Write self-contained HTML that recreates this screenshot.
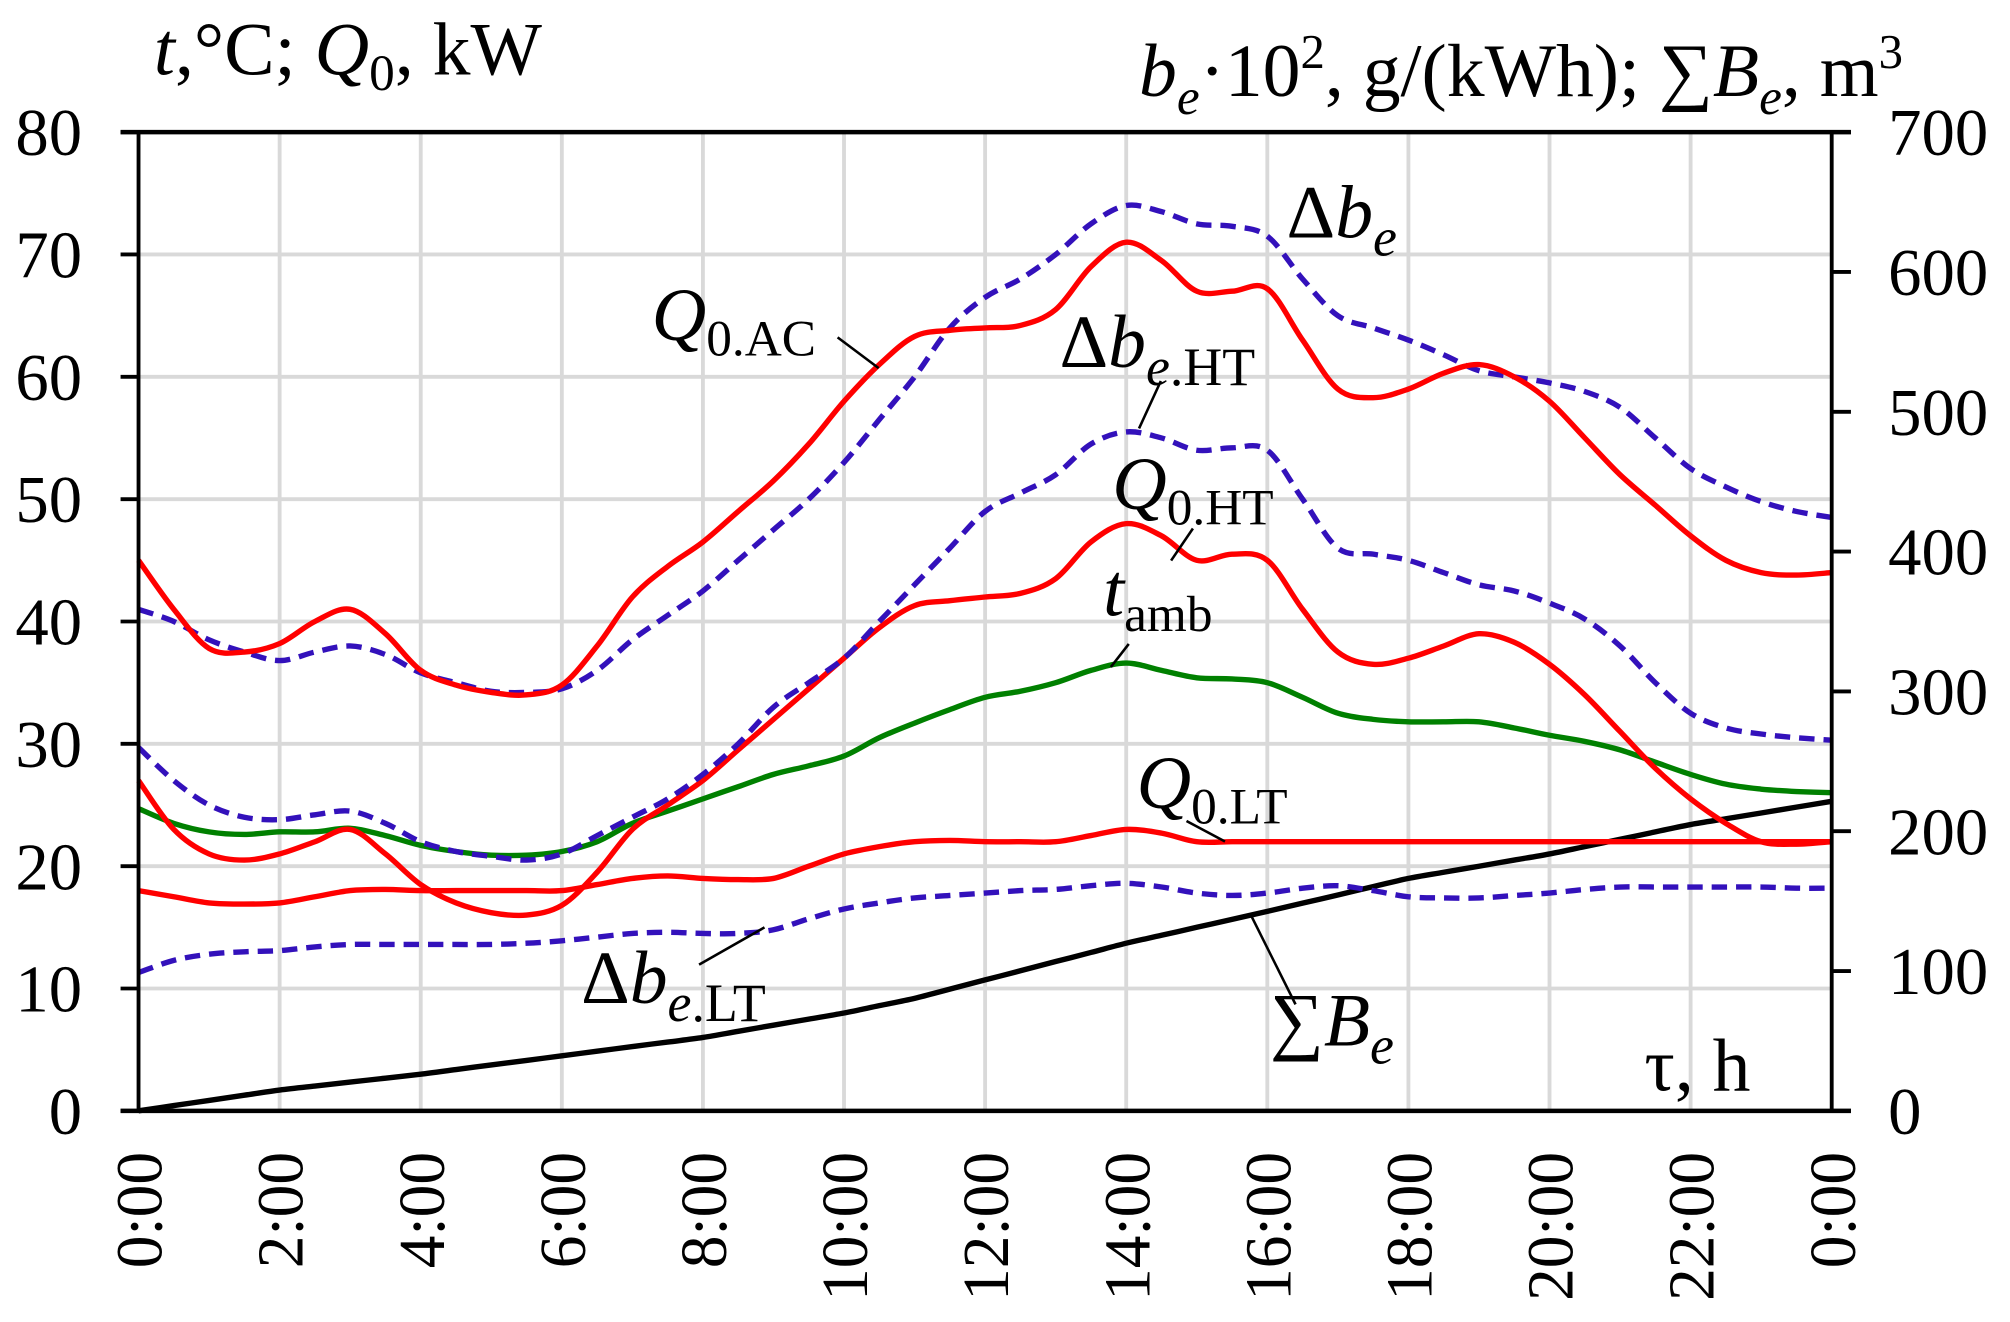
<!DOCTYPE html>
<html><head><meta charset="utf-8"><style>
html,body{margin:0;padding:0;background:#fff;}
svg{display:block;}
text{font-family:"Liberation Serif","Times New Roman",serif;fill:#000;}
</style></head><body>
<svg id="s" width="2010" height="1322" viewBox="0 0 1567 1030.6" xmlns="http://www.w3.org/2000/svg">
<g id="grid"></g>
<g id="series"></g>
<g id="axes"></g>
<g font-size="59">
<text x="120" y="58"><tspan font-style="italic">t</tspan>,°C; <tspan font-style="italic">Q</tspan><tspan font-size="40" dy="12">0</tspan><tspan dy="-12">, kW</tspan></text>
<text x="888" y="75"><tspan font-style="italic">b</tspan><tspan font-size="40" font-style="italic" dy="14">e</tspan><tspan dy="-14">·10</tspan><tspan font-size="38" dy="-22">2</tspan><tspan dy="22">, g/(kWh); ∑</tspan><tspan font-style="italic">B</tspan><tspan font-size="40" font-style="italic" dy="14">e</tspan><tspan dy="-14">, m</tspan><tspan font-size="38" dy="-22">3</tspan></text>
<text x="1282" y="850">τ, h</text>
<text x="1003" y="185">Δ<tspan font-style="italic">b</tspan><tspan font-size="42" font-style="italic" dy="14">e</tspan></text>
<text x="508" y="265"><tspan font-style="italic">Q</tspan><tspan font-size="40" dy="12">0.AC</tspan></text>
<text x="826" y="286">Δ<tspan font-style="italic">b</tspan><tspan font-size="42" dy="14"><tspan font-style="italic">e</tspan>.HT</tspan></text>
<text x="867" y="397"><tspan font-style="italic">Q</tspan><tspan font-size="40" dy="12">0.HT</tspan></text>
<text x="860" y="480"><tspan font-style="italic">t</tspan><tspan font-size="40" dy="12">amb</tspan></text>
<text x="886" y="630"><tspan font-style="italic">Q</tspan><tspan font-size="40" dy="12">0.LT</tspan></text>
<text x="453" y="782">Δ<tspan font-style="italic">b</tspan><tspan font-size="42" dy="14"><tspan font-style="italic">e</tspan>.LT</tspan></text>
<text x="990" y="815">∑<tspan font-style="italic">B</tspan><tspan font-size="42" font-style="italic" dy="14">e</tspan></text>
</g>
<g stroke="#000" stroke-width="2">
<line x1="653" y1="263" x2="685" y2="287"/>
<line x1="905" y1="297" x2="888" y2="334"/>
<line x1="930" y1="412" x2="913" y2="437"/>
<line x1="880" y1="502" x2="866" y2="520"/>
<line x1="925" y1="640" x2="955" y2="656"/>
<line x1="545" y1="752" x2="596" y2="723"/>
<line x1="1010" y1="783" x2="975" y2="713"/>
</g>
</svg>
<script>
var NS="http://www.w3.org/2000/svg";
var L=108,R=1428,T=103,B=866;
function X(h){return L+(R-L)*h/24;}
function Y(v){return B-(B-T)*v/80;}
function el(parent,tag,attrs,txt){var e=document.createElementNS(NS,tag);for(var k in attrs)e.setAttribute(k,attrs[k]);if(txt!==undefined)e.textContent=txt;document.getElementById(parent).appendChild(e);return e;}
for(var i=1;i<12;i++){el("grid","line",{x1:X(2*i),x2:X(2*i),y1:T,y2:B,stroke:"#d9d9d9","stroke-width":3});}
for(var v=10;v<80;v+=10){el("grid","line",{x1:L,x2:R,y1:Y(v),y2:Y(v),stroke:"#d9d9d9","stroke-width":3});}
el("axes","line",{x1:94,x2:R+15,y1:T,y2:T,stroke:"#000","stroke-width":3.5});
el("axes","line",{x1:94,x2:R+15,y1:B,y2:B,stroke:"#000","stroke-width":3.5});
el("axes","line",{x1:L,x2:L,y1:T,y2:B,stroke:"#000","stroke-width":3});
el("axes","line",{x1:R,x2:R,y1:T,y2:B,stroke:"#000","stroke-width":3});
for(var v=0;v<=80;v+=10){el("axes","line",{x1:94,x2:L,y1:Y(v),y2:Y(v),stroke:"#000","stroke-width":3});
 el("axes","text",{x:64,y:Y(v)+18,"text-anchor":"end","font-size":"52"},String(v));}
for(var v=0;v<=700;v+=100){var y=B-(B-T)*v/700;el("axes","line",{x1:R,x2:R+15,y1:y,y2:y,stroke:"#000","stroke-width":3});
 el("axes","text",{x:1472,y:y+18,"font-size":"52"},String(v));}
for(var h=0;h<=24;h+=2){var lab=(h%24)+":00";var x=X(h);
 el("axes","text",{x:0,y:0,"text-anchor":"end","font-size":"51",transform:"translate("+(x+18)+",898) rotate(-90)"},lab);}
function smooth(pts){var P=pts.map(function(p){return [X(p[0]),Y(p[1])];});
 var d="M"+P[0][0].toFixed(1)+","+P[0][1].toFixed(1);
 for(var i=0;i<P.length-1;i++){var p0=P[i-1]||P[i],p1=P[i],p2=P[i+1],p3=P[i+2]||P[i+1];
  var c1=[p1[0]+(p2[0]-p0[0])/6,p1[1]+(p2[1]-p0[1])/6],c2=[p2[0]-(p3[0]-p1[0])/6,p2[1]-(p3[1]-p1[1])/6];
  d+=" C"+c1[0].toFixed(1)+","+c1[1].toFixed(1)+" "+c2[0].toFixed(1)+","+c2[1].toFixed(1)+" "+p2[0].toFixed(1)+","+p2[1].toFixed(1);}
 return d;}
function ser(vals,color,dash,w){var pts=[];for(var i=0;i<vals.length;i++)pts.push([i*0.5,vals[i]]);
 var a={d:smooth(pts),fill:"none",stroke:color,"stroke-width":w||4.2,"stroke-linejoin":"round"};if(dash)a["stroke-dasharray"]=dash;el("series","path",a);}
var sumB=[];var kn=[[0,0],[2,1.7],[4,3],[6,4.5],[8,6],[10,8],[11,9.2],[12,10.7],[14,13.7],[16,16.3],[18,19],[20,21],[22,23.4],[24,25.3]];
for(var i=0;i<=48;i++){var h=i/2;for(var j=0;j<kn.length-1;j++){if(h>=kn[j][0]&&h<=kn[j+1][0]){var t=(h-kn[j][0])/(kn[j+1][0]-kn[j][0]);sumB.push(kn[j][1]+t*(kn[j+1][1]-kn[j][1]));break;}}}
ser(sumB,"#000",null,4.2);
var D="12 7";
ser([11.3,12.3,12.8,13,13.1,13.4,13.6,13.6,13.6,13.6,13.6,13.7,13.9,14.2,14.5,14.6,14.5,14.5,14.8,15.7,16.5,17,17.4,17.6,17.8,18,18.1,18.4,18.6,18.3,17.8,17.6,17.8,18.2,18.4,18,17.5,17.4,17.4,17.6,17.8,18.1,18.3,18.3,18.3,18.3,18.3,18.2,18.2],"#3311bb",D);
ser([18,17.5,17,16.9,17,17.5,18,18.1,18,18,18,18,18,18.5,19,19.2,19,18.9,19,20,21,21.6,22,22.1,22,22,22,22.5,23,22.7,22,22,22,22,22,22,22,22,22,22,22,22,22,22,22,22,22,22,22],"#ff0000");
ser([24.7,23.5,22.8,22.6,22.8,22.8,23.1,22.5,21.7,21.2,20.9,20.9,21.2,22,23.5,24.5,25.5,26.5,27.5,28.2,29,30.5,31.7,32.8,33.8,34.3,35,36,36.6,36,35.4,35.3,35,33.8,32.5,32,31.8,31.8,31.8,31.3,30.7,30.2,29.5,28.5,27.5,26.7,26.3,26.1,26],"#008000");
ser([27,23,21,20.5,21,22,23,21,18.5,17,16.2,16,16.8,19.5,23,25,27,29.5,32,34.5,37,39.5,41.3,41.7,42,42.3,43.5,46.5,48,47,45,45.5,45,41,37.5,36.5,37,38,39,38.3,36.5,34,31,28,25.5,23.5,22,21.8,22],"#ff0000");
ser([29.7,27,25,24,23.8,24.2,24.5,23.5,22,21.2,20.8,20.5,21,22.5,24,25.5,27.5,30,33,35,37,40,43,46,49,50.5,52,54.5,55.5,55,54,54.2,54,50,46,45.5,45,44,43,42.5,41.5,40.2,38,35,32.5,31.3,30.8,30.5,30.3],"#3311bb",D);
ser([41,40,38.5,37.5,36.8,37.5,38,37.3,35.8,35,34.3,34.2,34.5,36,38.5,40.5,42.5,45,47.5,50,53,56.5,60,64,66.5,68,70,72.5,74,73.5,72.5,72.3,71.5,68,65,64,63,61.8,60.5,60,59.5,58.8,57.5,55,52.5,51,49.8,49,48.5],"#3311bb",D);
ser([45,41,37.8,37.5,38.2,40,41,39,36,34.8,34.2,34,34.8,38,42,44.5,46.5,49,51.5,54.5,58,61,63.3,63.8,64,64.2,65.5,69,71,69.5,67,67,67.2,63,59,58.3,59,60.3,61,60,58,55,52,49.5,47,45,44,43.8,44],"#ff0000");
</script>
</body></html>
